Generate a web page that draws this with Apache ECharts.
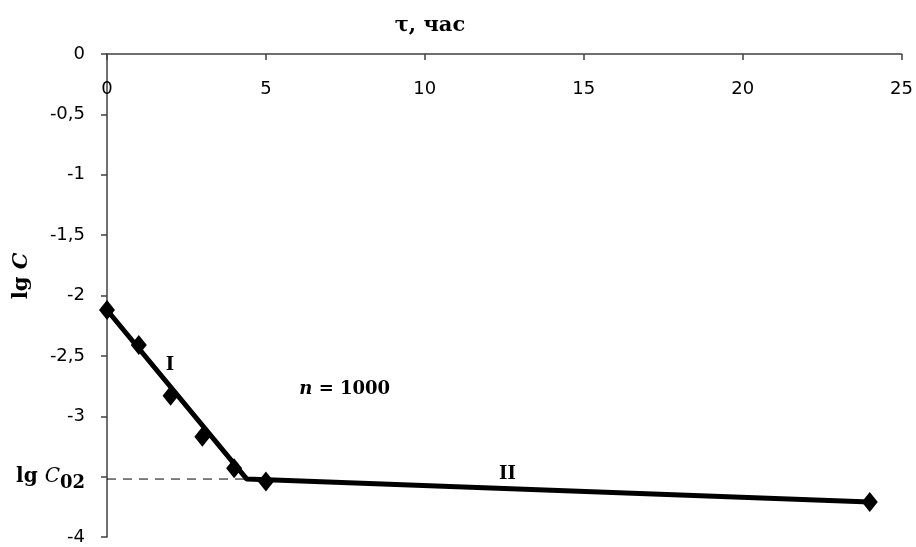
<!DOCTYPE html>
<html><head><meta charset="utf-8">
<script src="https://cdn.jsdelivr.net/npm/echarts@6/dist/echarts.min.js"></script>
<style>html,body{margin:0;padding:0;background:#fff}#c{width:916px;height:547px}</style>
</head><body><div id="c"></div>
<script>
var tau = [0, 1, 2, 3, 4, 5, 24];
var lgC = [-2.12, -2.41, -2.83, -3.17, -3.43, -3.54, -3.71];
var fitTau = [0, 4.4, 24];
var fitLgC = [-2.12, -3.52, -3.71];
var lgC02 = -3.52;
var xTicks = [0, 5, 10, 15, 20, 25];
var yTicks = [0, -0.5, -1, -1.5, -2, -2.5, -3, -3.5, -4];

var serif = '"DejaVu Serif", "Liberation Serif", serif';
var sans = '"DejaVu Sans", "Liberation Sans", sans-serif';

var chart = echarts.init(document.getElementById('c'));
chart.setOption({
  animation: false,
  grid: {left: 107, right: 14, top: 54, bottom: 10, containLabel: false},
  xAxis: {
    type: 'value', position: 'top', min: xTicks[0], max: xTicks[xTicks.length - 1], interval: 5,
    axisLine: {lineStyle: {color: '#404040', width: 1.5}},
    axisTick: {inside: true, length: 6, lineStyle: {color: '#404040', width: 1.5}},
    splitLine: {show: false},
    axisLabel: {inside: true, margin: 26, color: '#000', fontSize: 18, fontFamily: sans}
  },
  yAxis: {
    type: 'value', min: yTicks[yTicks.length - 1], max: yTicks[0], interval: 0.5,
    axisLine: {onZero: false, lineStyle: {color: '#404040', width: 1.5}},
    axisTick: {length: 6, lineStyle: {color: '#404040', width: 1.5}},
    splitLine: {show: false},
    axisLabel: {
      margin: 22, color: '#000', fontSize: 18, fontFamily: sans,
      formatter: function (v) {
        if (Math.abs(v + 3.5) < 1e-9) return '{a|lg }{b|C}{c|02}';
        return String(v).replace('.', ',');
      },
      rich: {
        a: {fontFamily: serif, fontWeight: 'bold', fontSize: 20, color: '#000'},
        b: {fontFamily: serif, fontStyle: 'italic', fontSize: 20, color: '#000'},
        c: {fontFamily: serif, fontWeight: 'bold', fontSize: 18, color: '#000', padding: [14, 0, 0, 0]}
      }
    }
  },
  graphic: [
    {type: 'text', x: 430, y: 26, style: {text: 'τ, час', fontFamily: serif, fontWeight: 900, fontSize: 21, fill: '#000', align: 'center', verticalAlign: 'middle'}},
    {type: 'text', x: 22, y: 276, rotation: Math.PI / 2, style: {
      text: '{a|lg }{b|C}', align: 'center', verticalAlign: 'middle',
      rich: {
        a: {fontFamily: serif, fontWeight: 'bold', fontSize: 21, fill: '#000'},
        b: {fontFamily: serif, fontWeight: 'bold', fontStyle: 'italic', fontSize: 21, fill: '#000'}
      }
    }}
  ],
  series: [
    {
      type: 'line', data: [[0, lgC02], [4.4, lgC02]], symbol: 'none', silent: true,
      lineStyle: {color: '#000', width: 1, type: [9, 7]}
    },
    {
      type: 'line', data: fitTau.map(function (t, i) { return [t, fitLgC[i]]; }),
      symbol: 'none', lineStyle: {color: '#000', width: 5}, z: 3
    },
    {
      type: 'scatter', data: tau.map(function (t, i) { return [t, lgC[i]]; }),
      symbol: 'diamond', symbolSize: [16, 20], itemStyle: {color: '#000', opacity: 1}, z: 4, clip: false
    },
    {
      type: 'scatter', symbolSize: 0, silent: true, itemStyle: {opacity: 1},
      data: [
        {value: [1.98, -2.58], label: {formatter: 'I'}},
        {value: [7.48, -2.78], label: {formatter: '{i|n} {b|= 1000}'}},
        {value: [12.6, -3.48], label: {formatter: 'II'}}
      ],
      label: {
        show: true, position: 'inside', color: '#000', fontFamily: serif, fontWeight: 900, fontSize: 18,
        rich: {
          i: {fontFamily: serif, fontStyle: 'italic', fontWeight: 900, fontSize: 18, color: '#000'},
          b: {fontFamily: serif, fontWeight: 900, fontSize: 18, color: '#000'}
        }
      }
    }
  ]
});
</script></body></html>
